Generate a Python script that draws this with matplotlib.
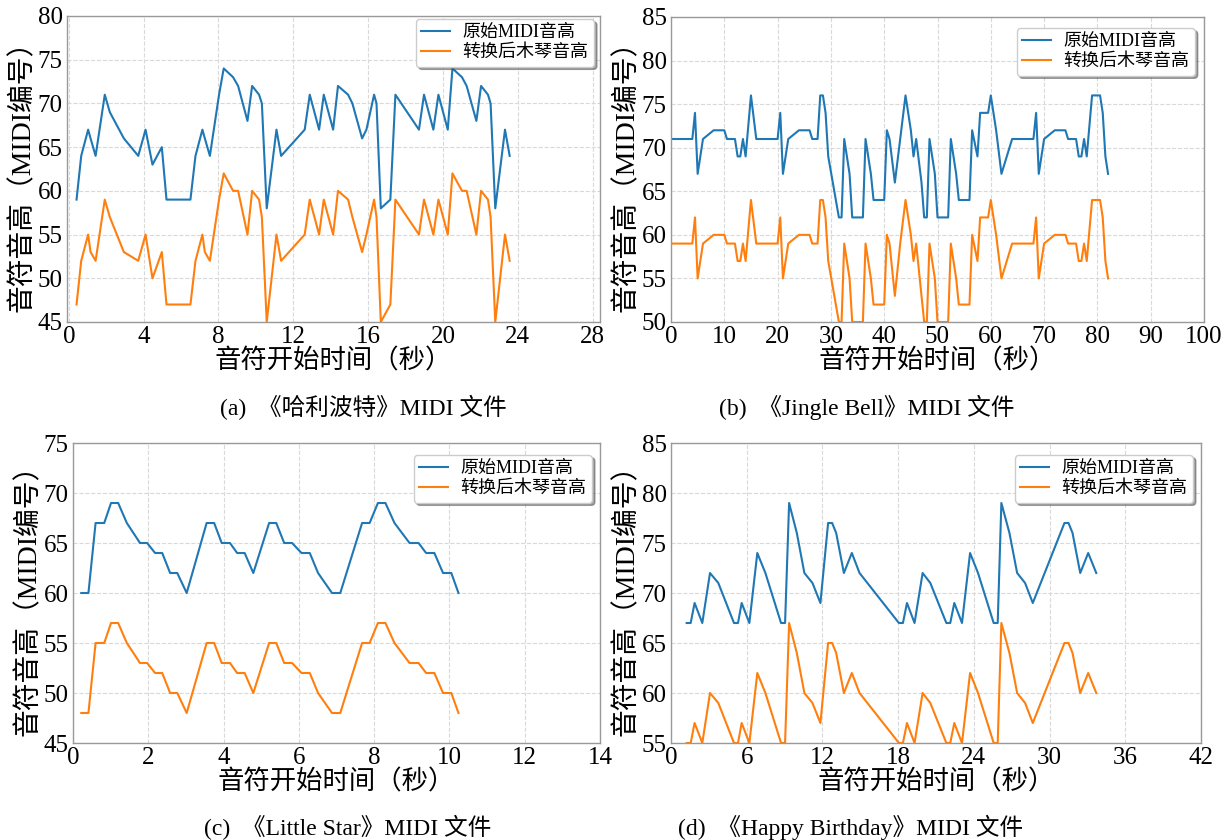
import matplotlib
matplotlib.use('Agg')
import matplotlib.pyplot as plt
import numpy as np

plt.rcParams['font.family'] = ['Liberation Serif', 'Noto Sans CJK SC']

# ---------------- data ----------------
a_t = [0.41, 0.66, 1.03, 1.16, 1.43, 1.92, 2.19, 2.94, 3.71, 4.10, 4.47, 4.97, 5.22, 6.50,
       6.77, 7.14, 7.27, 7.54, 8.03, 8.28, 8.78, 9.05, 9.55, 9.80, 10.17, 10.32, 10.58, 11.10,
       11.35, 12.61, 12.88, 13.38, 13.63, 14.13, 14.39, 14.93, 15.16, 15.68, 15.91, 16.32,
       16.45, 16.68, 17.19, 17.46, 18.72, 18.99, 19.49, 19.76, 20.26, 20.51, 21.02, 21.27,
       21.79, 22.04, 22.41, 22.55, 22.80, 23.32, 23.57]
a_orig = [59, 64, 67, 66, 64, 71, 69, 66, 64, 67, 63, 65, 59, 59, 64, 67, 66, 64, 71, 74,
          73, 72, 68, 72, 71, 70, 58, 67, 64, 67, 71, 67, 71, 67, 72, 71, 70, 66, 67, 71,
          70, 58, 59, 71, 67, 71, 67, 71, 67, 74, 73, 72, 68, 72, 71, 70, 58, 67, 64]
a_conv = [47, 52, 55, 53, 52, 59, 57, 53, 52, 55, 50, 53, 47, 47, 52, 55, 53, 52, 59, 62,
          60, 60, 55, 60, 59, 57, 45, 55, 52, 55, 59, 55, 59, 55, 60, 59, 57, 53, 55, 59,
          57, 45, 47, 59, 55, 59, 55, 59, 55, 62, 60, 60, 55, 60, 59, 57, 45, 55, 52]

b_t = [0, 4, 4.5, 5, 6, 8, 10, 10.5, 12, 12.5, 13, 13.5, 14, 15, 16, 20, 20.5, 21, 22, 24,
       26, 26.5, 27.5, 28, 28.5, 29, 29.5, 31.5, 32, 32.5, 33.5, 34, 36, 36.5, 37.5, 38, 40,
       40.5, 41, 42, 43, 44, 45, 45.5, 46, 47, 47.5, 48, 48.5, 49.5, 50, 52, 52.5, 53.5, 54,
       56, 56.5, 57.5, 58, 59.5, 60, 61, 62, 64, 68, 68.5, 69, 70, 72, 74, 74.5, 76, 76.5,
       77, 77.5, 78, 79, 80.5, 81, 81.5, 82]
b_orig = [71, 71, 74, 67, 71, 72, 72, 71, 71, 69, 69, 71, 69, 76, 71, 71, 74, 67, 71, 72,
          72, 71, 71, 76, 76, 74, 69, 62, 62, 71, 67, 62, 62, 71, 67, 64, 64, 72, 71, 66,
          71, 76, 72, 69, 71, 66, 62, 62, 71, 67, 62, 62, 71, 67, 64, 64, 72, 69, 74, 74,
          76, 72, 67, 71, 71, 74, 67, 71, 72, 72, 71, 71, 69, 69, 71, 69, 76, 76, 74, 69, 67]
b_conv = [59, 59, 62, 55, 59, 60, 60, 59, 59, 57, 57, 59, 57, 64, 59, 59, 62, 55, 59, 60,
          60, 59, 59, 64, 64, 62, 57, 50, 50, 59, 55, 50, 50, 59, 55, 52, 52, 60, 59, 53,
          59, 64, 60, 57, 59, 53, 50, 50, 59, 55, 50, 50, 59, 55, 52, 52, 60, 57, 62, 62,
          64, 60, 55, 59, 59, 62, 55, 59, 60, 60, 59, 59, 57, 57, 59, 57, 64, 64, 62, 57, 55]

c_t = [0.22, 0.41, 0.60, 0.83, 1.01, 1.20, 1.43, 1.78, 1.97, 2.18, 2.37, 2.58, 2.77, 3.02,
       3.55, 3.75, 3.95, 4.17, 4.36, 4.56, 4.79, 5.21, 5.40, 5.61, 5.82, 6.07, 6.29, 6.51,
       6.88, 7.10, 7.68, 7.88, 8.10, 8.30, 8.54, 8.94, 9.18, 9.38, 9.60, 9.83, 10.05, 10.24]
c_orig = [60, 60, 67, 67, 69, 69, 67, 65, 65, 64, 64, 62, 62, 60, 67, 67, 65, 65, 64, 64,
          62, 67, 67, 65, 65, 64, 64, 62, 60, 60, 67, 67, 69, 69, 67, 65, 65, 64, 64, 62,
          62, 60]
c_conv = [48, 48, 55, 55, 57, 57, 55, 53, 53, 52, 52, 50, 50, 48, 55, 55, 53, 53, 52, 52,
          50, 55, 55, 53, 53, 52, 52, 50, 48, 48, 55, 55, 57, 57, 55, 53, 53, 52, 52, 50,
          50, 48]

d_t = [1.24, 1.56, 1.87, 2.48, 3.09, 3.75, 4.99, 5.31, 5.60, 6.21, 6.84, 7.48, 8.72, 9.04,
       9.36, 9.97, 10.57, 11.21, 11.84, 12.45, 12.77, 13.09, 13.70, 14.33, 14.94,
       18.06, 18.38, 18.70, 19.30, 19.94, 20.55, 21.82, 22.13, 22.45, 23.06, 23.70, 24.33,
       25.57, 25.89, 26.18, 26.82, 27.43, 28.06, 28.67, 31.18, 31.50, 31.82, 32.43, 33.06,
       33.70]
d_orig = [67, 67, 69, 67, 72, 71, 67, 67, 69, 67, 74, 72, 67, 67, 79, 76, 72, 71, 69, 77,
          77, 76, 72, 74, 72,
          67, 67, 69, 67, 72, 71, 67, 67, 69, 67, 74, 72, 67, 67, 79, 76, 72, 71, 69, 77,
          77, 76, 72, 74, 72]
d_conv = [55, 55, 57, 55, 60, 59, 55, 55, 57, 55, 62, 60, 55, 55, 67, 64, 60, 59, 57, 65,
          65, 64, 60, 62, 60,
          55, 55, 57, 55, 60, 59, 55, 55, 57, 55, 62, 60, 55, 55, 67, 64, 60, 59, 57, 65,
          65, 64, 60, 62, 60]

series_labels = ['原始MIDI音高', '转换后木琴音高']
xlabel = '音符开始时间（秒）'
ylabel = '音符音高（MIDI编号）'
captions = ['(a)  《哈利波特》MIDI 文件', '(b)  《Jingle Bell》MIDI 文件',
            '(c)  《Little Star》MIDI 文件', '(d)  《Happy Birthday》MIDI 文件']

# ---------------- layout ----------------
W, H = 1221, 840
fig = plt.figure(figsize=(W / 100, H / 100), dpi=100)

panels = [
    dict(t=a_t, o=a_orig, c=a_conv, rect=(67, 600, 16, 322), xlim=(-0.1, 28.4),
         xt=np.arange(0, 29, 4), ylim=(45, 80), yt=np.arange(45, 81, 5),
         leg=(0.989, 0.990), cap=(363, 407)),
    dict(t=b_t, o=b_orig, c=b_conv, rect=(671, 1204, 17, 322), xlim=(0, 100),
         xt=np.arange(0, 101, 10), ylim=(50, 85), yt=np.arange(50, 86, 5),
         leg=(0.983, 0.964), cap=(867, 407)),
    dict(t=c_t, o=c_orig, c=c_conv, rect=(73, 600, 443, 743), xlim=(0, 14),
         xt=np.arange(0, 15, 2), ylim=(45, 75), yt=np.arange(45, 76, 5),
         leg=(0.985, 0.96), cap=(348, 827)),
    dict(t=d_t, o=d_orig, c=d_conv, rect=(671, 1201, 443, 743), xlim=(0, 42),
         xt=np.arange(0, 43, 6), ylim=(55, 85), yt=np.arange(55, 86, 5),
         leg=(0.985, 0.96), cap=(851, 827)),
]

for p, cap in zip(panels, captions):
    l, r, t, b = p['rect']
    wpx, hpx = r - l, b - t
    ax = fig.add_axes([l / W, 1 - b / H, wpx / W, hpx / H])
    ax.plot(p['t'], p['o'], color='#1f77b4', lw=1.5, label=series_labels[0])
    ax.plot(p['t'], p['c'], color='#ff7f0e', lw=1.5, label=series_labels[1])
    ax.set_xlim(*p['xlim'])
    ax.set_ylim(*p['ylim'])
    ax.set_xticks(p['xt'])
    ax.set_yticks(p['yt'])
    ax.grid(True, ls='--', color='#d9d9d9', lw=0.8)
    ax.set_axisbelow(True)
    for s in ax.spines.values():
        s.set_color('#999999')
        s.set_linewidth(1.0)
    ax.tick_params(length=0, labelsize=18, pad=3)
    ax.set_xlabel(xlabel, fontsize=19)
    ax.xaxis.set_label_coords(0.5, -39 / hpx)
    ax.xaxis.label.set_va('center')
    ax.set_ylabel(ylabel, fontsize=20)
    ax.yaxis.set_label_coords(-44 / wpx, 0.5)
    ax.yaxis.label.set_va('center')
    ax.legend(loc='upper right', bbox_to_anchor=p['leg'], borderaxespad=0,
              fontsize=13, shadow=True, handlelength=1.6, handletextpad=0.7,
              labelspacing=0.15, borderpad=0.3, framealpha=1.0)
    cx, cy = p['cap']
    fig.text(cx / W, 1 - cy / H, cap, ha='center', va='center', fontsize=17)

fig.savefig('out.png', dpi=100)
